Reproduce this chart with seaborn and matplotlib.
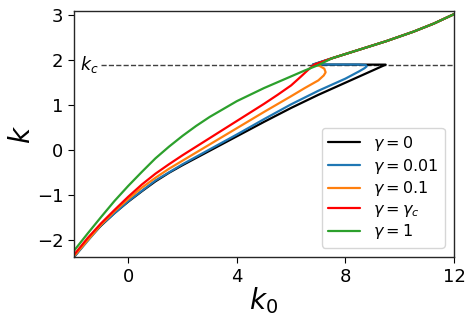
import numpy as np
import pandas as pd
import matplotlib
matplotlib.use("Agg")
import matplotlib.pyplot as plt
import seaborn as sns

# Dados (k0, k) para cada gamma
ramo_sup_k0 = [7.5, 8.5, 9.5, 10.5, 11.25, 12.0]
ramo_sup_k = [2.03, 2.22, 2.41, 2.62, 2.80, 3.01]

k0_g0 = [-2.0, -1.5, -1.0, -0.5, 0.0, 0.5, 1.0, 1.5, 2.0, 3.0, 4.0, 5.0, 6.0, 7.0, 8.0, 9.0, 9.48, 6.8]
k_g0 = [-2.38, -2.00, -1.68, -1.40, -1.15, -0.92, -0.70, -0.51, -0.34, -0.02, 0.30, 0.62, 0.93, 1.22, 1.49, 1.76, 1.89, 1.89]

k0_g001 = [-2.0, -1.0, 0.0, 1.0, 2.0, 3.0, 4.0, 5.0, 6.0, 7.0, 8.0, 8.5, 8.7, 8.78, 8.75, 8.5, 6.8]
k_g001 = [-2.38, -1.67, -1.14, -0.68, -0.32, 0.01, 0.34, 0.68, 1.01, 1.31, 1.58, 1.74, 1.81, 1.85, 1.88, 1.892, 1.892]

k0_g01 = [-2.0, -1.0, -0.5, 0.0, 0.5, 1.0, 1.5, 2.0, 2.5, 3.0, 4.0, 5.0, 6.0, 6.5, 7.0, 7.2, 7.27, 7.22, 7.05, 6.9]
k_g01 = [-2.36, -1.66, -1.36, -1.09, -0.84, -0.62, -0.42, -0.24, -0.06, 0.12, 0.48, 0.84, 1.19, 1.37, 1.54, 1.65, 1.72, 1.80, 1.86, 1.89]

k0_gc = [-2.0, -1.5, -1.0, -0.5, 0.0, 0.5, 1.0, 1.5, 2.0, 2.5, 3.0, 4.0, 5.0, 5.5, 6.0, 6.35, 6.6, 6.75, 6.85]
k_gc = [-2.33, -1.96, -1.63, -1.33, -1.04, -0.77, -0.53, -0.32, -0.12, 0.07, 0.26, 0.64, 1.02, 1.22, 1.43, 1.62, 1.76, 1.84, 1.89]

k0_g1 = [-2.0, -1.5, -1.0, -0.5, 0.0, 0.5, 1.0, 1.5, 2.0, 2.5, 3.0, 4.0, 5.0, 6.0, 6.5, 7.0]
k_g1 = [-2.24, -1.86, -1.49, -1.13, -0.80, -0.49, -0.19, 0.07, 0.31, 0.53, 0.73, 1.08, 1.37, 1.63, 1.76, 1.88]

rotulos = [r"$\gamma=0$", r"$\gamma=0.01$", r"$\gamma=0.1$", r"$\gamma=\gamma_c$", r"$\gamma=1$"]
cores = ["black", "#1f77b4", "#ff7f0e", "red", "#2ca02c"]
kc = 1.89

# Monta o dataframe (cada curva + ramo superior)
curvas = [(k0_g0, k_g0), (k0_g001, k_g001), (k0_g01, k_g01), (k0_gc, k_gc), (k0_g1, k_g1)]
tabela = []
for rot, (xs, ys) in zip(rotulos, curvas):
    for x, y in zip(list(xs) + ramo_sup_k0, list(ys) + ramo_sup_k):
        tabela.append({"k0": x, "k": y, "gamma": rot})
dados = pd.DataFrame(tabela)

sns.set_style("ticks")
plt.rcParams["font.family"] = ["DejaVu Sans"]
plt.rcParams["mathtext.fontset"] = "dejavusans"
plt.rcParams["text.color"] = "black"
plt.rcParams["axes.labelcolor"] = "black"
plt.rcParams["xtick.color"] = "black"
plt.rcParams["ytick.color"] = "black"

fig = plt.figure(figsize=(4.74, 3.23), dpi=100)
ax = fig.add_axes([0.156, 0.204, 0.802, 0.762])

ax.plot([-1.0, 12.0], [kc, kc], "--", color="0.25", lw=1.0)
ax.text(-1.1, kc, r"$k_c$", fontsize=12.5, ha="right", va="center")

sns.lineplot(data=dados, x="k0", y="k", hue="gamma", palette=cores, sort=False,
             estimator=None, lw=1.6, ax=ax)

for s in ax.spines.values():
    s.set_color("0.15")
    s.set_linewidth(1.0)

ax.set_xlim(-2, 12)
ax.set_ylim(-2.38, 3.08)
ax.set_xticks([0, 4, 8, 12])
ax.set_yticks([-2, -1, 0, 1, 2, 3])
ax.tick_params(labelsize=13, length=4)
ax.set_xlabel(r"$k_0$", fontsize=20, labelpad=0)
ax.set_ylabel(r"$k$", fontsize=20, labelpad=1)

leg = ax.legend(loc="lower right", fontsize=11.5, frameon=True, handlelength=2.0,
                labelspacing=0.22, borderaxespad=0.6)
leg.set_title(None)

fig.savefig("out.png", dpi=100)
